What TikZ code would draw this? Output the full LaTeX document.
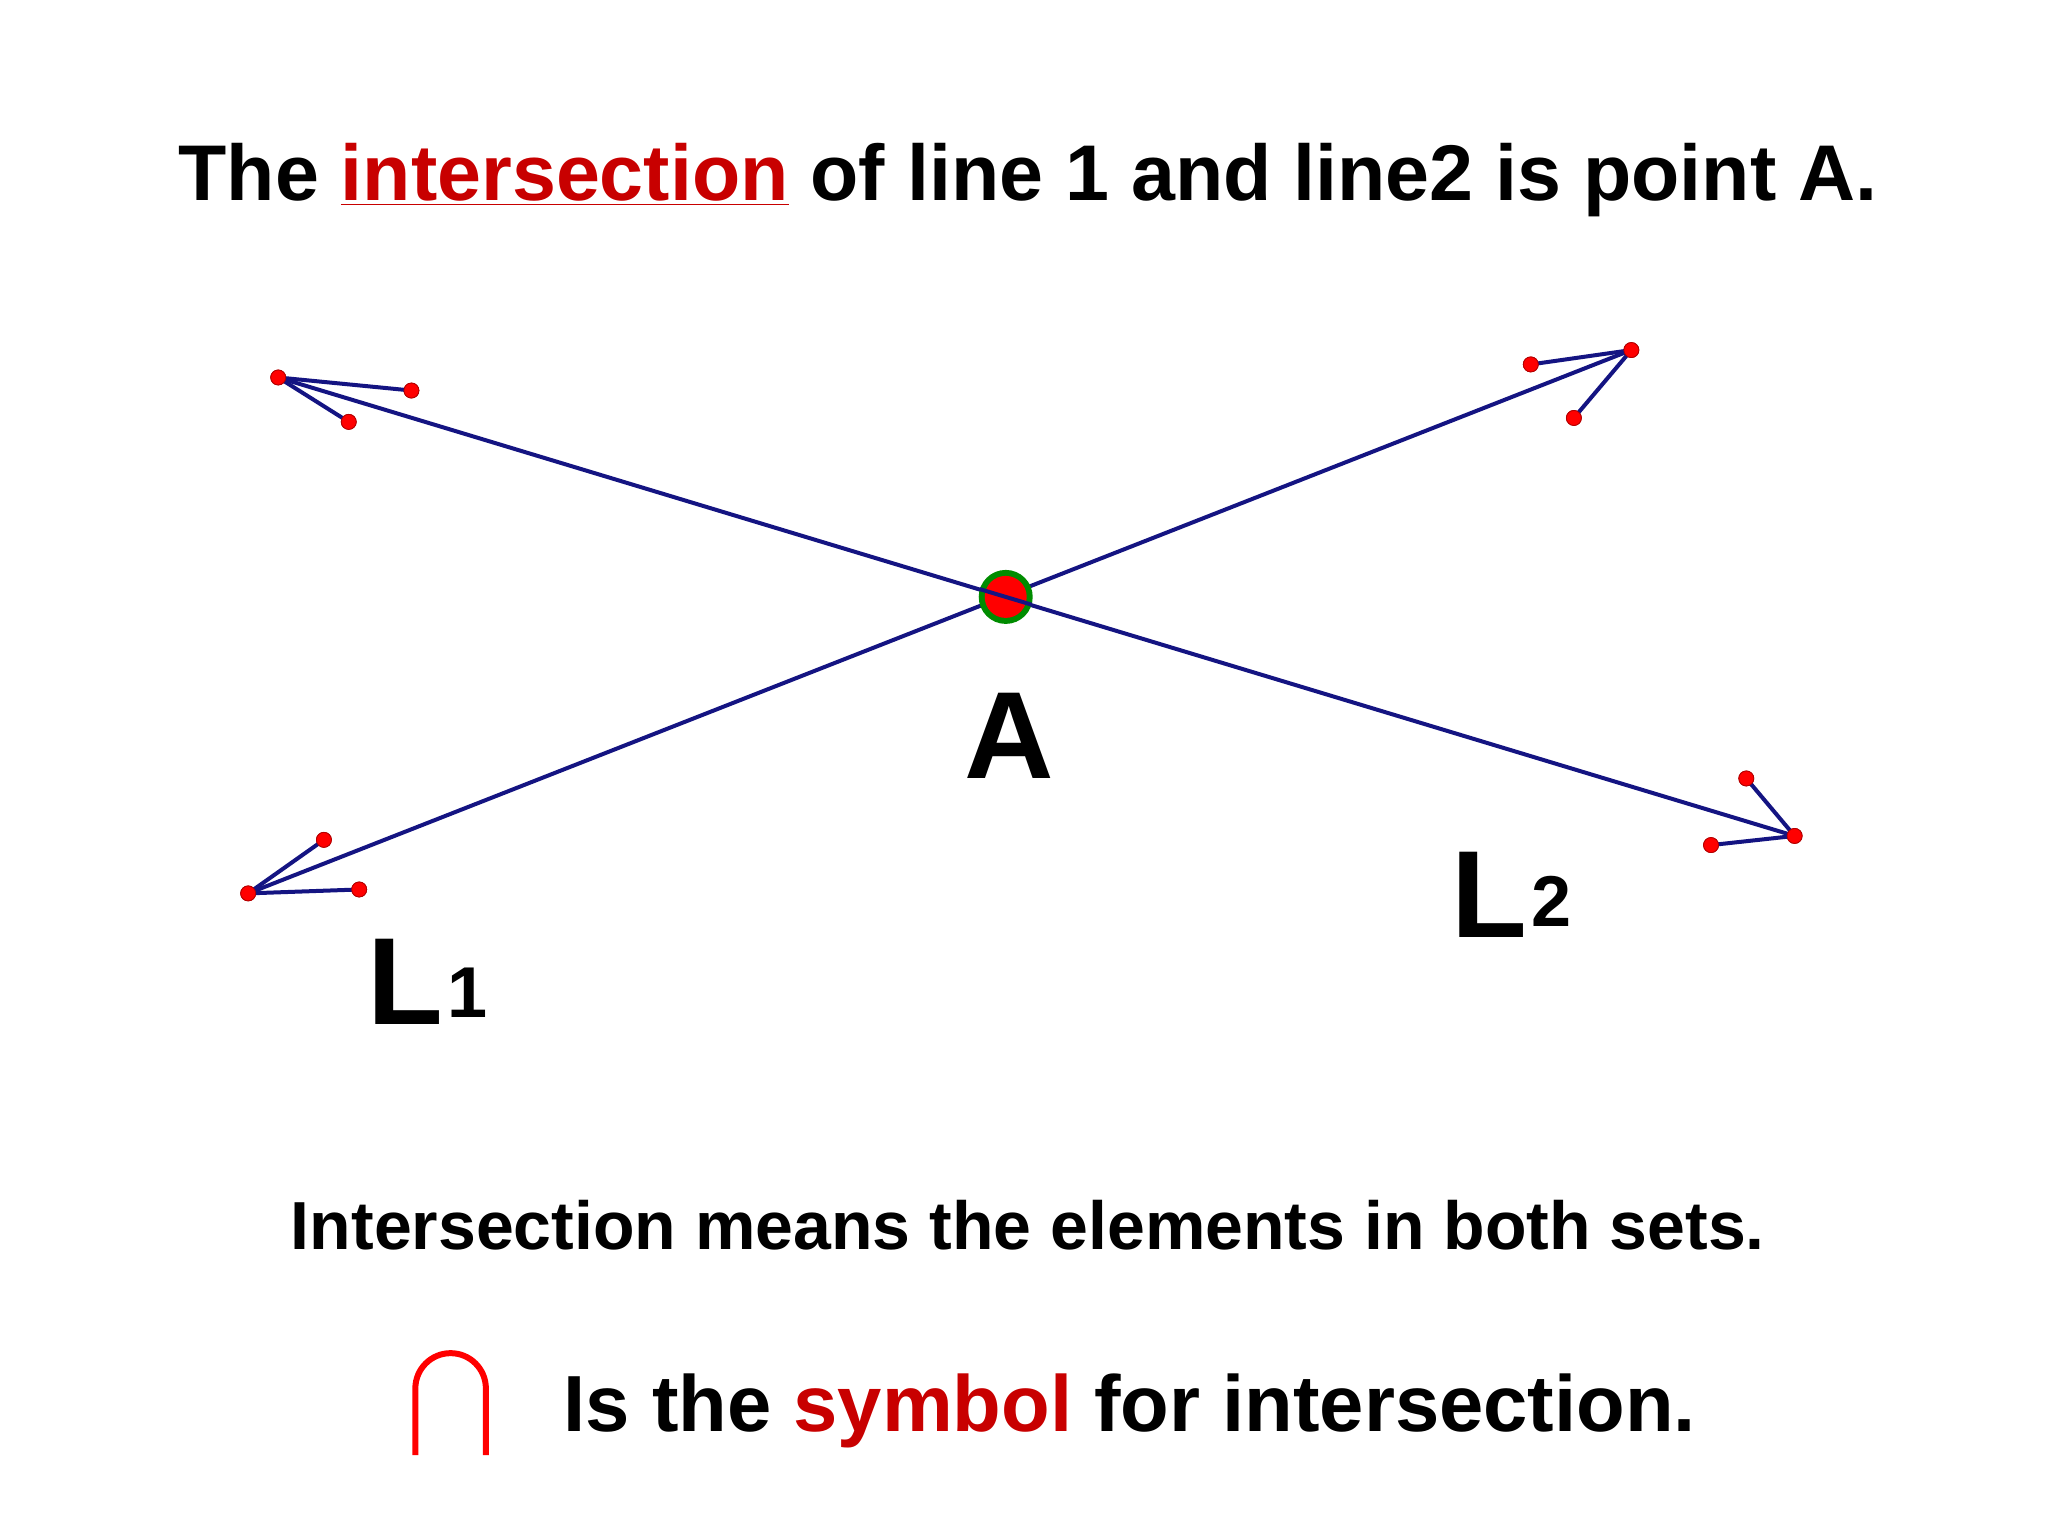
\documentclass[tikz,border=0pt]{standalone}
\usepackage{fontspec}
\setmainfont{Liberation Sans}
\definecolor{lnavy}{RGB}{20,20,130}
\definecolor{kred}{RGB}{200,0,0}
\definecolor{dred}{RGB}{255,0,0}
\definecolor{dgreen}{RGB}{0,140,0}
\begin{document}
\begin{tikzpicture}[x=0.653pt,y=-0.653pt,
  ln/.style={draw=lnavy,line width=2pt},
  dot/.style={circle,fill=dred,draw=red!70!black,line width=0.4pt,inner sep=0pt,minimum size=7.5pt},
  txt/.style={font=\bfseries,inner sep=0pt}]
\useasboundingbox (0,0) rectangle (1568,1176);
\fill[white] (0,0) rectangle (1568,1176);
% title
\node[txt,font=\fontsize{39.5}{48}\selectfont\bfseries] (title) at (787,138) {The \textcolor{kred}{\underline{intersection}} of line 1 and line2 is point A.};
% line 1 points
\node[dot] (a1) at (213,289) {};
\node[dot] (a2) at (1374,640) {};
\node[dot] (a1p) at (315,299) {};
\node[dot] (a1q) at (267,323) {};
\node[dot] (a2p) at (1337,596) {};
\node[dot] (a2q) at (1310,647) {};
% line 2 points
\node[dot] (b1) at (190,684) {};
\node[dot] (b2) at (1249,268) {};
\node[dot] (b1p) at (248,643) {};
\node[dot] (b1q) at (275,681) {};
\node[dot] (b2p) at (1172,279) {};
\node[dot] (b2q) at (1205,320) {};
\coordinate (A) at (770,457);
\draw[ln] (a1.center) -- (a2.center);
\draw[ln] (b1.center) -- (b2.center);
\draw[ln] (a1.center) -- (a1p.center) (a1.center) -- (a1q.center);
\draw[ln] (a2.center) -- (a2p.center) (a2.center) -- (a2q.center);
\draw[ln] (b1.center) -- (b1p.center) (b1.center) -- (b1q.center);
\draw[ln] (b2.center) -- (b2p.center) (b2.center) -- (b2q.center);
\foreach \n in {a1,a2,a1p,a1q,a2p,a2q,b1,b2,b1p,b1q,b2p,b2q}{\node[dot] at (\n) {};}
\node[circle,fill=dgreen,inner sep=0pt,minimum size=27pt] (Ac) at (A) {};
\node[circle,fill=dred,inner sep=0pt,minimum size=21pt] at (A) {};
\draw[ln] (A) ++(-20,-6) -- ++(40,12);
% labels
\node[txt,font=\fontsize{62}{70}\selectfont\bfseries] (lA) at (773,563) {A};
\node[txt,font=\fontsize{62}{70}\selectfont\bfseries] (L1) at (310,752) {L};
\node[txt,font=\fontsize{36}{40}\selectfont\bfseries] (s1) at (358,760) {1};
\node[txt,font=\fontsize{62}{70}\selectfont\bfseries] (L2) at (1140,685) {L};
\node[txt,font=\fontsize{36}{40}\selectfont\bfseries] (s2) at (1188,690) {2};
\node[txt,font=\fontsize{34}{40}\selectfont\bfseries] (t2) at (787,938) {Intersection means the elements in both sets.};
\draw[dred,line width=3pt] (318,1114) -- (318,1063) arc[start angle=180,end angle=360,radius=27] -- (372,1114);
\node[txt,font=\fontsize{39.8}{46}\selectfont\bfseries] (t3) at (865,1080) {Is the \textcolor{kred}{symbol} for intersection.};
\end{tikzpicture}
\end{document}
